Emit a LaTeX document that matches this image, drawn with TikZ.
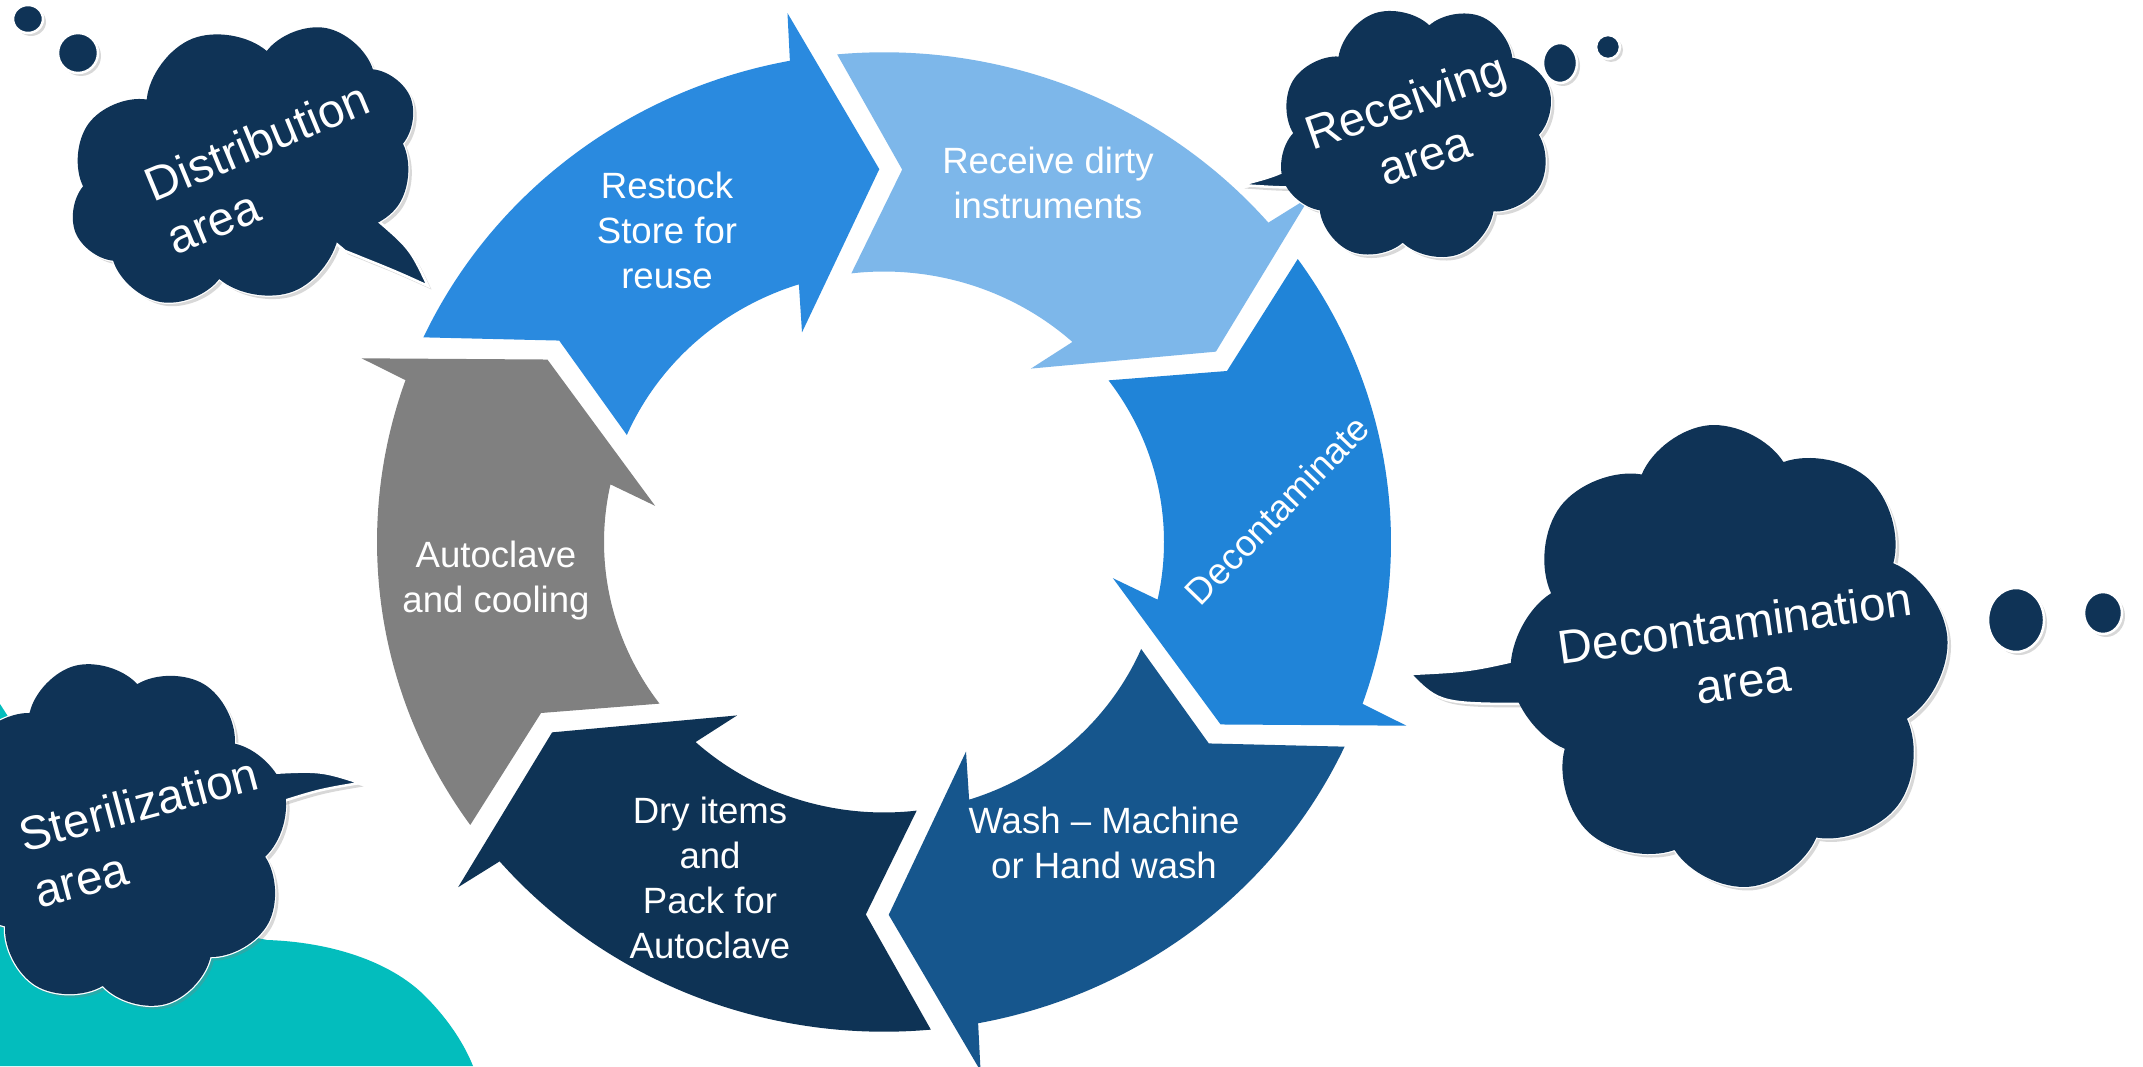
\documentclass[tikz,border=0pt]{standalone}
\usepackage{fontspec}
\setmainfont{Liberation Sans}
\usetikzlibrary{shapes.symbols,shadows}

\definecolor{restockblue}{HTML}{2A8ADF}
\definecolor{receiveblue}{HTML}{7DB7EA}
\definecolor{deconblue}{HTML}{2084D8}
\definecolor{washblue}{HTML}{16568D}
\definecolor{drynavy}{HTML}{0E3355}
\definecolor{autogray}{HTML}{808080}
\definecolor{cloudnavy}{HTML}{0F3356}
\definecolor{blobteal}{HTML}{03BDBD}

\newcommand{\cyclearrow}[2]{%
  \fill[#2, shift={(884,524)}, yscale=0.966, rotate=#1]
    (0:386) -- (9.3:556) -- (10:507)
    arc[start angle=10, end angle=64.6, radius=507]
    -- (56.6:386) -- (66:280)
    arc[start angle=66, end angle=17, radius=280]
    -- (20:232) -- cycle;}

\begin{document}
\begin{tikzpicture}[x=0.01cm, y=0.01cm,
  steptext/.style={text=white, align=center, inner sep=0pt, font=\fontsize{10.4}{12.8}\selectfont},
  areatext/.style={text=white, inner sep=0pt, font=\fontsize{13.5}{16.5}\selectfont},
  cloudbody/.style={cloud, cloud puffs=8, cloud puff arc=125, cloud ignores aspect, inner sep=0pt, fill=cloudnavy},
  cloudlined/.style={cloudbody, draw=white, line width=0.025cm, drop shadow={shadow xshift=0.035cm, shadow yshift=-0.035cm, opacity=0.3}},
  tailline/.style={fill=cloudnavy, draw=white, line width=0.025cm, drop shadow={shadow xshift=0.035cm, shadow yshift=-0.035cm, opacity=0.3}},
  thoughtdot/.style={fill=cloudnavy, draw=white, line width=0.025cm, drop shadow={shadow xshift=0.03cm, shadow yshift=-0.03cm, opacity=0.3}}]
\useasboundingbox (0,0) rectangle (2143,1066);
\clip (0,0) rectangle (2143,1066);
\fill[white] (0,0) rectangle (2143,1066);

\cyclearrow{150.7}{autogray}
\cyclearrow{90.7}{restockblue}
\cyclearrow{30.7}{receiveblue}
\cyclearrow{-29.3}{deconblue}
\cyclearrow{-89.3}{washblue}
\cyclearrow{-149.3}{drynavy}

\node[steptext] (restock) at (667,836) {Restock\\Store for\\reuse};
\node[steptext] (receive) at (1048,883) {Receive dirty\\instruments};
\node[steptext, rotate=46] (decon) at (1277,556) {Decontaminate};
\node[steptext] (wash) at (1104,223) {Wash – Machine\\or Hand wash};
\node[steptext] (dry) at (710,188) {Dry items\\and\\Pack for\\Autoclave};
\node[steptext] (autoclave) at (496,485) {Autoclave\\and cooling};

\fill[blobteal] (0,362) -- (40,300) -- (200,140) -- (267,126)
  .. controls (330,124) and (390,105) .. (425,70)
  .. controls (450,45) and (465,20) .. (473,0) -- (0,0) -- cycle;

\node[cloudlined, minimum width=3.61cm, minimum height=2.72cm, rotate=22] (distcloud) at (243,901) {};
\coordinate (distpoint) at (428,780);
\draw[tailline] (distcloud.center) -- (370,852) .. controls (410,818) .. (distpoint) .. controls (395,795) .. (345,815) -- cycle;
\node[cloudbody, minimum width=3.61cm, minimum height=2.72cm, rotate=22] (distfill) at (distcloud.center) {};
\node[areatext, rotate=22.5, align=left] (distlabel) at (268,898) {Distribution\\area};
\draw[thoughtdot] (78,1013) circle[radius=20];
\draw[thoughtdot] (28,1047) ellipse[x radius=15, y radius=14];

\node[cloudlined, minimum width=2.81cm, minimum height=2.55cm, rotate=19] (recvcloud) at (1416,932) {};
\coordinate (recvpoint) at (1241,881);
\draw[tailline] (recvcloud.center) -- (1305,905) .. controls (1275,890) .. (recvpoint) .. controls (1285,878) .. (1322,880) -- cycle;
\node[cloudbody, minimum width=2.81cm, minimum height=2.55cm, rotate=19] (recvfill) at (recvcloud.center) {};
\node[areatext, rotate=19, align=center] (recvlabel) at (1415,938) {Receiving\\area};
\draw[thoughtdot] (1560,1003) ellipse[x radius=17, y radius=20];
\draw[thoughtdot] (1608,1019) circle[radius=12];

\node[cloudlined, minimum width=4.38cm, minimum height=4.63cm, rotate=5] (deconcloud) at (1729,410) {};
\coordinate (deconpoint) at (1410,392);
\draw[tailline] (deconcloud.center) -- (1535,410) .. controls (1470,395) .. (deconpoint) .. controls (1440,362) .. (1540,362) -- cycle;
\node[cloudbody, minimum width=4.38cm, minimum height=4.63cm, rotate=5] (deconfill) at (deconcloud.center) {};
\node[areatext, rotate=8, align=center] (deconlabel) at (1739,414) {Decontamination\\area};
\draw[thoughtdot] (2016,446) ellipse[x radius=28, y radius=32];
\draw[thoughtdot] (2103,453) ellipse[x radius=19, y radius=21];

\node[cloudlined, minimum width=3.4cm, minimum height=3.5cm, rotate=15] (stercloud) at (120,231) {};
\coordinate (sterpoint) at (360,283);
\draw[tailline] (stercloud.center) -- (255,292) .. controls (320,296) .. (sterpoint) .. controls (318,276) .. (262,258) -- cycle;
\node[cloudbody, minimum width=3.4cm, minimum height=3.5cm, rotate=15] (sterfill) at (stercloud.center) {};
\node[areatext, rotate=15, align=left] (sterlabel) at (146,234) {Sterilization\\area};
\end{tikzpicture}
\end{document}
